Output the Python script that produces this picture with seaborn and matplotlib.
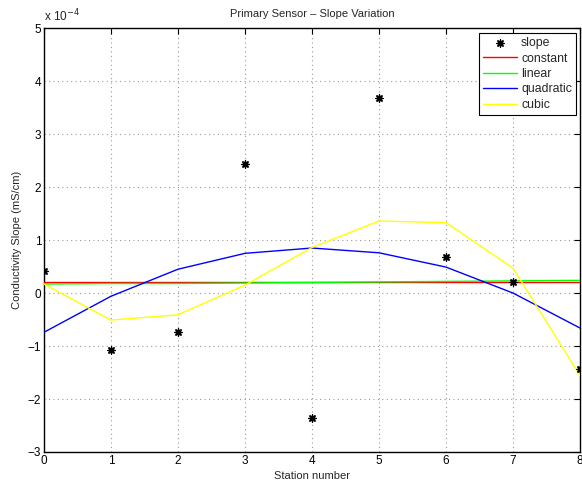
import numpy as np
import pandas as pd
import seaborn as sns
import matplotlib.pyplot as plt
from matplotlib.ticker import FuncFormatter, MultipleLocator

# station numbers and measured slopes (mS/cm)
station = [0, 1, 2, 3, 4, 5, 6, 7, 8]
slope = [0.42e-4, -1.07e-4, -0.74e-4, 2.43e-4, -2.36e-4, 3.68e-4, 0.69e-4, 0.20e-4, -1.43e-4]

# fitted curves evaluated at each station
constant = [0.20e-4] * 9
linear = [0.17e-4, 0.18e-4, 0.18e-4, 0.19e-4, 0.20e-4, 0.21e-4, 0.22e-4, 0.23e-4, 0.24e-4]
quadratic = [-0.74e-4, -0.06e-4, 0.45e-4, 0.75e-4, 0.85e-4, 0.76e-4, 0.49e-4, 0.00e-4, -0.66e-4]
cubic = [0.17e-4, -0.51e-4, -0.41e-4, 0.15e-4, 0.86e-4, 1.36e-4, 1.33e-4, 0.47e-4, -1.56e-4]

fits = pd.DataFrame({
    'station': station * 4,
    'value': constant + linear + quadratic + cubic,
    'fit': ['constant'] * 9 + ['linear'] * 9 + ['quadratic'] * 9 + ['cubic'] * 9,
})
pts = pd.DataFrame({'station': station, 'slope': slope})

sns.set_style('white')
plt.rcParams['font.family'] = ['Liberation Sans', 'DejaVu Sans']
plt.rcParams['font.size'] = 8

fig = plt.figure(figsize=(5.82, 4.86), dpi=100)
ax = fig.add_axes([0.0756, 0.07, 0.921, 0.872])

sns.scatterplot(data=pts, x='station', y='slope', marker=(8, 2, 0), s=26,
                color='black', linewidth=1.0, label='slope', ax=ax, zorder=5)
sns.lineplot(data=fits, x='station', y='value', hue='fit',
             palette={'constant': '#ff0000', 'linear': '#00ff00',
                      'quadratic': '#0000ff', 'cubic': '#ffff00'},
             linewidth=1.0, ax=ax, zorder=3)

ax.set_xlim(0, 8)
ax.set_ylim(-3e-4, 5e-4)
ax.xaxis.set_major_locator(MultipleLocator(1))
ax.yaxis.set_major_locator(MultipleLocator(1e-4))
ax.yaxis.set_major_formatter(FuncFormatter(lambda v, p: f'{v / 1e-4:.0f}'.replace('-', '\u2212')))
ax.grid(True, linestyle=(0, (1, 3)), color='#999999', linewidth=0.8)
ax.tick_params(direction='in', top=True, right=True, length=4, width=0.8,
               labelsize=8.5, pad=2, colors='black')
for s in ax.spines.values():
    s.set_visible(True)
    s.set_color('black')
    s.set_linewidth(1.0)

ax.set_xlabel('Station number', fontsize=8, labelpad=3)
ax.set_ylabel('Conductivity Slope (mS/cm)', fontsize=8, labelpad=4)
ax.set_title('Primary Sensor \u2013 Slope Variation', fontsize=8, pad=8)
ax.text(0.0, 1.008, 'x 10$^{\u22124}$', transform=ax.transAxes, fontsize=8.5,
        ha='left', va='bottom')

leg = ax.legend(loc='upper right', bbox_to_anchor=(0.993, 0.989), frameon=True,
                fancybox=False, edgecolor='black', framealpha=1, fontsize=8.8,
                handlelength=2.8, handletextpad=0.3, borderpad=0.35,
                labelspacing=0.28, borderaxespad=0)
leg.get_frame().set_linewidth(0.8)

fig.savefig('out.png', dpi=100)
